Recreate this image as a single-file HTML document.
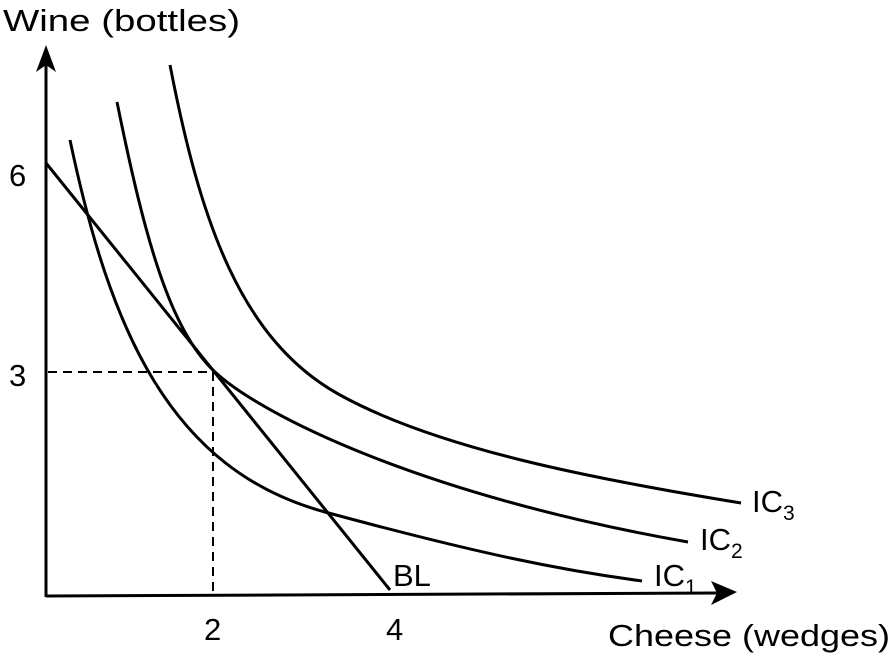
<!DOCTYPE html>
<html><head><style>
body{margin:0;background:#fff}
svg text{font-family:"Liberation Sans",sans-serif;fill:#000}
</style></head><body>
<svg width="892" height="655" viewBox="0 0 892 655" xmlns="http://www.w3.org/2000/svg">
<g stroke="#000" stroke-width="3" fill="none">
<line x1="46" y1="597" x2="46" y2="62"/>
<line x1="46" y1="596" x2="718" y2="593"/>
<path d="M70,140 C110,330 170,470 325,512 S560,570 642,581"/>
<path d="M117,102 C145,240 170,330 215,372 S420,495 688,542"/>
<path d="M170,65 C200,220 240,340 340,395 S600,480 741,503"/>
<line x1="46" y1="163" x2="390" y2="590"/>
</g>
<polygon points="46,45 36,72 46,65 56,72" fill="#000"/>
<polygon points="737,592 711,581 717,593 711,605" fill="#000"/>
<g stroke="#000" stroke-width="2" stroke-dasharray="9,6">
<line x1="48" y1="372" x2="213" y2="372"/>
<line x1="213" y1="372" x2="213" y2="595"/>
</g>
<g font-size="31">
<text x="3" y="31" textLength="237" lengthAdjust="spacingAndGlyphs">Wine (bottles)</text>
<text x="9" y="186">6</text>
<text x="9" y="386">3</text>
<text x="204" y="640">2</text>
<text x="386" y="640">4</text>
<text x="608" y="646" textLength="282" lengthAdjust="spacingAndGlyphs">Cheese (wedges)</text>
<text x="393" y="586">BL</text>
<text x="752" y="512">IC<tspan font-size="21" dy="8">3</tspan></text>
<text x="700" y="550">IC<tspan font-size="21" dy="8">2</tspan></text>
<text x="654" y="586">IC<tspan font-size="21" dy="8">1</tspan></text>
</g>
</svg>
</body></html>
